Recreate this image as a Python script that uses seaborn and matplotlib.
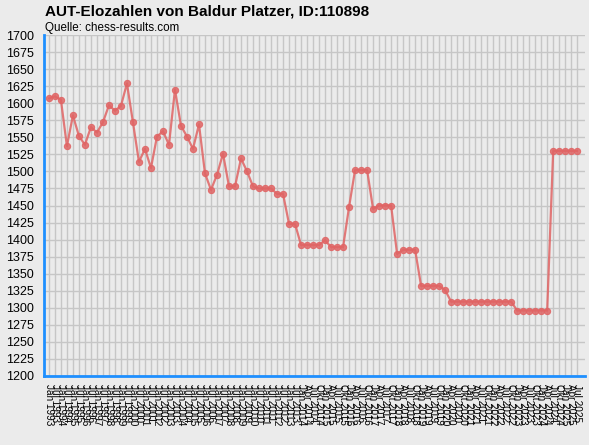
import pandas as pd
import seaborn as sns
import matplotlib.pyplot as plt

# Elo values
elo = [1607, 1610, 1605, 1537, 1582, 1552, 1539, 1565, 1557, 1572,
       1597, 1589, 1596, 1629, 1572, 1514, 1533, 1505, 1551, 1559,
       1539, 1620, 1567, 1551, 1533, 1569, 1497, 1473, 1495, 1526,
       1478, 1478, 1519, 1500, 1478, 1475, 1475, 1475, 1467, 1467,
       1423, 1423, 1392, 1392, 1392, 1392, 1399, 1389, 1389, 1389,
       1448, 1502, 1502, 1502, 1445, 1450, 1450, 1450, 1379, 1385,
       1385, 1385, 1332, 1332, 1332, 1332, 1326, 1309, 1309, 1309,
       1309, 1309, 1309, 1309, 1309, 1309, 1309, 1309, 1296, 1296,
       1296, 1296, 1296, 1296, 1530, 1530, 1530, 1530, 1530]

# rating list dates (semi-annual first, quarterly later)
dates = ['Jan 1993', 'Jul 1993', 'Jan 1994', 'Jul 1994', 'Jan 1995', 'Jul 1995',
         'Jan 1996', 'Jul 1996', 'Jan 1997', 'Jul 1997', 'Jan 1998', 'Jul 1998',
         'Jan 1999', 'Jul 1999', 'Jan 2000', 'Jul 2000', 'Jan 2001', 'Jul 2001',
         'Jan 2002', 'Jul 2002', 'Jan 2003', 'Jul 2003', 'Jan 2004', 'Jul 2004',
         'Jan 2005', 'Jul 2005', 'Jan 2006', 'Jul 2006', 'Jan 2007', 'Jul 2007',
         'Jan 2008', 'Jul 2008', 'Jan 2009', 'Jul 2009', 'Jan 2010', 'Jul 2010',
         'Jan 2011', 'Jul 2011', 'Jan 2012', 'Jul 2012', 'Jan 2013', 'Jul 2013',
         'Jan 2014', 'Apr 2014', 'Jul 2014', 'Okt 2014',
         'Jan 2015', 'Apr 2015', 'Jul 2015', 'Okt 2015',
         'Jan 2016', 'Apr 2016', 'Jul 2016', 'Okt 2016',
         'Jan 2017', 'Apr 2017', 'Jul 2017', 'Okt 2017',
         'Jan 2018', 'Apr 2018', 'Jul 2018', 'Okt 2018',
         'Jan 2019', 'Apr 2019', 'Jul 2019', 'Okt 2019',
         'Jan 2020', 'Apr 2020', 'Jul 2020', 'Okt 2020',
         'Jan 2021', 'Apr 2021', 'Jul 2021', 'Okt 2021',
         'Jan 2022', 'Apr 2022', 'Jul 2022', 'Okt 2022',
         'Jan 2023', 'Apr 2023', 'Jul 2023', 'Okt 2023',
         'Jan 2024', 'Apr 2024', 'Jul 2024', 'Okt 2024',
         'Jan 2025', 'Apr 2025', 'Jul 2025']

y_ticks = list(range(1200, 1701, 25))

df = pd.DataFrame({'pos': range(len(elo)), 'Elo': elo, 'Datum': dates})

bg = '#ebebeb'
blue = '#1e8fff'

sns.set_style('white')
plt.rcParams['font.family'] = ['Liberation Sans', 'DejaVu Sans']

fig = plt.figure(figsize=(5.89, 4.45), dpi=100, facecolor=bg)
W, H = 589, 445
ax = fig.add_axes([43.5 / W, 1 - 376 / H, (585 - 43.5) / W, (376 - 35) / H])
ax.set_facecolor(bg)

sns.lineplot(data=df, x='pos', y='Elo', ax=ax, color='#e06464', alpha=0.85,
             linewidth=1.6, marker='o', markersize=4.5, markeredgewidth=0.8,
             markeredgecolor='#e06464', zorder=3)

ax.set_xlim(-0.9, len(elo) - 1 + 1.3)
ax.set_ylim(1200, 1700)
ax.set_xticks(df['pos'])
ax.set_xticklabels(df['Datum'], rotation=270, fontsize=7.2, ha='center', va='top')
ax.set_yticks(y_ticks)
ax.tick_params(axis='y', labelsize=9, direction='out', length=4, width=1.8,
               color=blue, pad=3, labelcolor='black')
ax.tick_params(axis='x', direction='out', length=5, width=1.8, color=blue, pad=1,
               labelcolor='black')
ax.grid(True, color='#c6c6c6', linewidth=1)
ax.set_axisbelow(True)

for side in ['top', 'right']:
    ax.spines[side].set_visible(False)
for side in ['left', 'bottom']:
    ax.spines[side].set_color(blue)
    ax.spines[side].set_linewidth(2)
ax.set_xlabel('')
ax.set_ylabel('')

fig.text(45 / W, 1 - 16 / H, 'AUT-Elozahlen von Baldur Platzer, ID:110898',
         fontsize=11, fontweight='bold', va='baseline', color='black')
fig.text(45 / W, 1 - 31.5 / H, 'Quelle: chess-results.com', fontsize=8.4,
         va='baseline', color='black')

fig.savefig('out.png', dpi=100, facecolor=bg)
